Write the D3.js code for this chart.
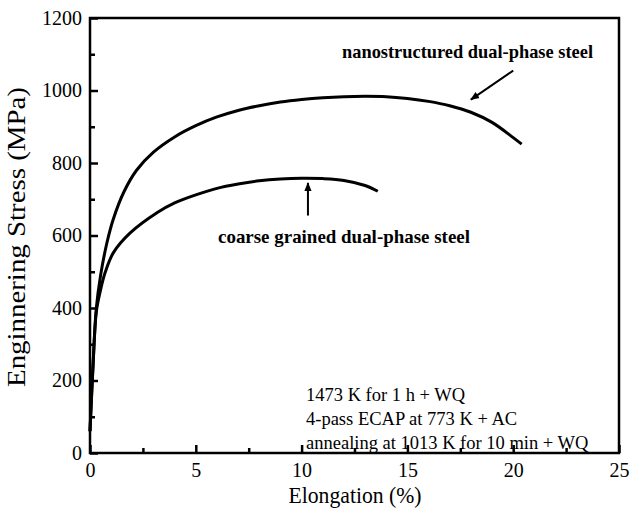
<!DOCTYPE html>
<html>
<head>
<meta charset="utf-8">
<script src="https://cdn.jsdelivr.net/npm/d3@7"></script>
<style>
  body { margin: 0; background: #fff; }
  svg text { font-family: "Liberation Serif", "DejaVu Serif", serif; fill: #000; }
</style>
</head>
<body>
<div id="chart"></div>
<script>
// data (elongation %, stress MPa)
var nanoStrain  = [0, 0.15, 0.3, 0.5, 0.8, 1.1, 1.6, 2.2, 3, 4, 5, 6, 7, 8, 9, 10, 11, 12, 13, 14, 15, 16, 17, 18, 19, 20, 20.4];
var nanoStress  = [60, 250, 400, 490, 580, 645, 720, 780, 830, 872, 903, 927, 945, 958, 968, 975, 980, 983, 984, 983, 978, 970, 958, 940, 912, 870, 852];
var coarseStrain = [0, 0.15, 0.3, 0.5, 0.7, 1.1, 1.9, 3.2, 4, 5, 6, 7, 8, 9, 10, 11, 12, 13, 13.6];
var coarseStress = [60, 250, 390, 450, 495, 552, 607, 664, 690, 712, 730, 742, 751, 756, 758, 757, 752, 738, 722];

var xTicks = [0, 5, 10, 15, 20, 25];
var yTicks = [0, 200, 400, 600, 800, 1000, 1200];
var processLines = ["1473 K for 1 h + WQ", "4-pass ECAP at 773 K + AC", "annealing at 1013 K for 10 min + WQ"];

var margin = {top: 18, right: 17, bottom: 66, left: 90};
var W = 636, H = 519;
var width = W - margin.left - margin.right;
var height = H - margin.top - margin.bottom;

var svg = d3.select("#chart").append("svg")
    .attr("width", W)
    .attr("height", H);

var g = svg.append("g")
    .attr("transform", "translate(" + margin.left + "," + margin.top + ")");

var x = d3.scaleLinear().domain([0, 25]).range([0, width]);
var y = d3.scaleLinear().domain([0, 1200]).range([height, 0]);

// frame
g.append("rect")
    .attr("width", width).attr("height", height)
    .attr("fill", "none").attr("stroke", "#000").attr("stroke-width", 2.5);

// x axis: major ticks inward, minor halfway
g.append("g").attr("class", "ax").attr("transform", "translate(0," + height + ")")
    .call(d3.axisBottom(x).tickValues(xTicks).tickFormat(d3.format("d"))
        .tickSizeInner(-8).tickSizeOuter(0).tickPadding(10));
g.append("g").attr("class", "ax").attr("transform", "translate(0," + height + ")")
    .call(d3.axisBottom(x).tickValues(d3.range(2.5, 25, 5)).tickSizeInner(-5).tickSizeOuter(0).tickFormat(""));

g.append("g").attr("class", "ax")
    .call(d3.axisLeft(y).tickValues(yTicks).tickFormat(d3.format("d"))
        .tickSizeInner(-8).tickSizeOuter(0).tickPadding(8));
g.append("g").attr("class", "ax")
    .call(d3.axisLeft(y).tickValues(d3.range(100, 1200, 200)).tickSizeInner(-5).tickSizeOuter(0).tickFormat(""));

g.selectAll(".ax .domain").remove();
g.selectAll(".ax .tick line").attr("stroke", "#000").attr("stroke-width", 2.5);
g.selectAll(".ax .tick text")
    .style("font-size", "20px")
    .style("font-family", "Liberation Serif");

// axis titles
svg.append("text")
    .attr("x", 355).attr("y", 503)
    .attr("text-anchor", "middle")
    .style("font-size", "23px")
    .attr("textLength", 133)
    .attr("lengthAdjust", "spacingAndGlyphs")
    .text("Elongation (%)");

svg.append("text")
    .attr("transform", "translate(25,237) rotate(-90)")
    .attr("text-anchor", "middle")
    .style("font-size", "25px")
    .attr("textLength", 300)
    .attr("lengthAdjust", "spacingAndGlyphs")
    .text("Enginnering Stress (MPa)");

// curves
var line = d3.line()
    .x(function(d) { return x(d[0]); })
    .y(function(d) { return y(d[1]); })
    .curve(d3.curveCatmullRom.alpha(0.5));

var nano = nanoStrain.map(function(e, i) { return [e, nanoStress[i]]; });
var coarse = coarseStrain.map(function(e, i) { return [e, coarseStress[i]]; });

[nano, coarse].forEach(function(s) {
    g.append("path")
        .datum(s)
        .attr("d", line)
        .attr("fill", "none")
        .attr("stroke", "#000")
        .attr("stroke-width", 3);
});

// arrowheads
svg.append("defs").append("marker")
    .attr("id", "arr")
    .attr("viewBox", "0 0 10 10")
    .attr("refX", 9).attr("refY", 5)
    .attr("markerWidth", 4.5).attr("markerHeight", 4.5)
    .attr("orient", "auto")
    .append("path").attr("d", "M0,1 L10,5 L0,9 Z").attr("fill", "#000");

// nanostructured label + arrow
g.append("text")
    .attr("x", 252).attr("y", y(1090))
    .style("font-size", "19px")
    .style("font-weight", "bold")
    .attr("textLength", 251)
    .attr("lengthAdjust", "spacingAndGlyphs")
    .text("nanostructured dual-phase steel");
g.append("line")
    .attr("x1", x(20.0)).attr("y1", y(1055))
    .attr("x2", x(18.0)).attr("y2", y(975))
    .attr("stroke", "#000").attr("stroke-width", 2)
    .attr("marker-end", "url(#arr)");

// coarse label + arrow
g.append("text")
    .attr("x", 128).attr("y", y(578))
    .style("font-size", "19px")
    .style("font-weight", "bold")
    .attr("textLength", 252)
    .attr("lengthAdjust", "spacingAndGlyphs")
    .text("coarse grained dual-phase steel");
g.append("line")
    .attr("x1", x(10.3)).attr("y1", y(655))
    .attr("x2", x(10.3)).attr("y2", y(745))
    .attr("stroke", "#000").attr("stroke-width", 2)
    .attr("marker-end", "url(#arr)");

// processing route
g.selectAll(".route")
    .data(processLines)
    .enter().append("text")
    .attr("class", "route")
    .attr("x", 216)
    .attr("y", function(d, i) { return 383 + i * 24; })
    .style("font-size", "18.5px")
    .text(function(d) { return d; });
</script>
</body>
</html>
